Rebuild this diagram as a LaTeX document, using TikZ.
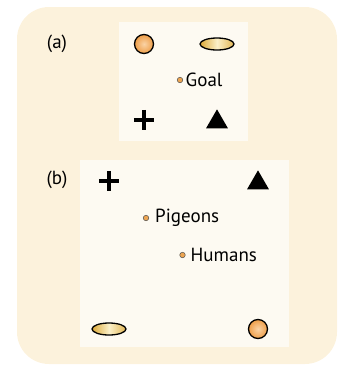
\documentclass[tikz,border=0pt]{standalone}
\usepackage{fontspec}
\setmainfont{PT Sans}
\usetikzlibrary{shapes.geometric}
\definecolor{outerbg}{HTML}{FCF2DC}
\definecolor{panelbg}{HTML}{FDFAF2}
\definecolor{ballor}{HTML}{EE9E48}
\definecolor{ballhi}{HTML}{FAD3A6}
\definecolor{goldA}{HTML}{DDAA38}
\definecolor{goldB}{HTML}{FBF0C8}
\definecolor{dotor}{HTML}{EDA552}
\tikzset{
  ballsym/.style={circle, draw=black, line width=1.3pt, minimum size=19pt, inner sep=0pt, inner color=ballhi, outer color=ballor},
  ovalsym/.style={ellipse, draw=black, line width=1.3pt, minimum width=34pt, minimum height=12pt, inner sep=0pt, left color=goldA, right color=goldA!85, middle color=goldB},
  plussym/.style={inner sep=0pt, minimum size=20pt},
  trisym/.style={isosceles triangle, isosceles triangle apex angle=60, shape border rotate=90, fill=black, draw=none, minimum height=19pt, inner sep=0pt},
  gdot/.style={circle, fill=dotor, draw=black!70, line width=0.5pt, minimum size=5.5pt, inner sep=0pt},
  lbl/.style={font=\fontsize{19}{22}\selectfont, inner sep=0pt, anchor=west},
}
\begin{document}
\begin{tikzpicture}[x=1pt,y=-1pt]
\useasboundingbox (0,0) rectangle (338,365);
\fill[outerbg, rounded corners=32pt] (17,7) rectangle (337,364);
% panel a
\fill[panelbg] (119,22) rectangle (248,141);
\node[lbl, anchor=center] (la) at (57,44) {(a)};
\node[ballsym] (a1) at (144,44) {};
\node[ovalsym] (a2) at (217,44) {};
\node[gdot] (ag) at (180,80) {};
\node[lbl] (agt) at (185.5,80) {Goal};
\node[plussym] (a3) at (144,120) {};
\draw[line width=3.3pt] (a3.west) -- (a3.east) (a3.north) -- (a3.south);
\node[trisym] (a4) at (217,122) {};
% panel b
\fill[panelbg] (80,160) rectangle (289,347);
\node[lbl, anchor=center] (lb) at (57,180) {(b)};
\node[plussym] (b1) at (109,181) {};
\draw[line width=3.3pt] (b1.west) -- (b1.east) (b1.north) -- (b1.south);
\node[trisym] (b2) at (258,183) {};
\node[gdot] (bp) at (146,218) {};
\node[lbl] (bpt) at (155,218) {Pigeons};
\node[gdot] (bh) at (182.5,255) {};
\node[lbl] (bht) at (190.5,255) {Humans};
\node[ovalsym] (b3) at (109,329) {};
\node[ballsym] (b4) at (258,329) {};
\end{tikzpicture}
\end{document}
